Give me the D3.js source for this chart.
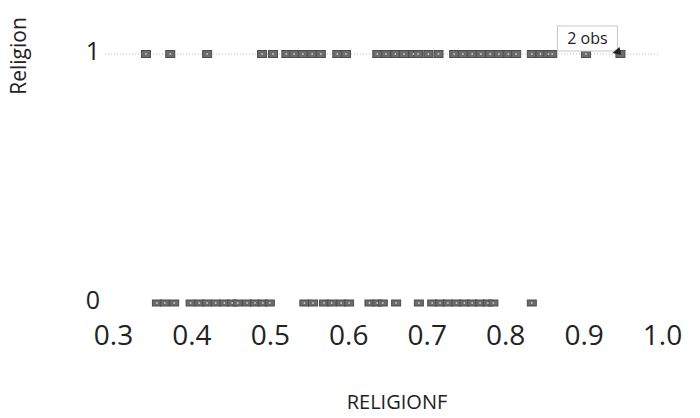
<!DOCTYPE html>
<html><head><meta charset="utf-8">
<script src="https://cdn.jsdelivr.net/npm/d3@7"></script>
<style>body{margin:0;background:#fff}svg{display:block}</style>
</head><body>
<svg id="c" width="700" height="418"></svg>
<script>
const xTicks = [0.3, 0.4, 0.5, 0.6, 0.7, 0.8, 0.9, 1.0];
const yCategories = [0, 1];
const religion1 = [0.342,0.373,0.420,0.490,0.504,0.521,0.531,0.542,0.554,0.565,0.586,0.597,
  0.637,0.648,0.660,0.671,0.683,0.689,0.702,0.715,0.735,0.746,0.758,0.769,0.781,0.792,0.804,0.814,
  0.834,0.845,0.855,0.860,0.903,0.947];
const religion0 = [0.356,0.366,0.378,0.399,0.410,0.420,0.431,0.442,0.452,0.459,0.471,0.481,0.491,0.500,
  0.544,0.555,0.569,0.579,0.591,0.601,0.627,0.637,0.644,0.661,0.690,
  0.707,0.717,0.727,0.738,0.748,0.758,0.768,0.778,0.785,0.834];
const tooltipText = "2 obs";
const tooltipValue = 0.947;

const svg = d3.select("#c");
const x = d3.scaleLinear().domain([0.3, 1.0]).range([113, 662]);
const y = d3.scaleLinear().domain([0, 1]).range([303, 54]);
const font = "'Open Sans', sans-serif";

// faint dotted guide at category 1
svg.append("line").attr("x1", 105).attr("x2", 660).attr("y1", y(1)).attr("y2", y(1))
  .attr("stroke", "#bbb").attr("stroke-width", 1).attr("stroke-dasharray", "1,2");

// x axis tick labels
const xAxis = d3.axisBottom(x).tickValues(xTicks).tickFormat(d3.format(".1f")).tickSize(0).tickPadding(0);
const gx = svg.append("g").attr("transform", "translate(0,325)").call(xAxis);
gx.select(".domain").remove();
gx.selectAll("text").attr("font-family", font).attr("font-size", 28).attr("fill", "#222")
  .attr("dy", "0.71em");

// y axis labels
const yAxis = d3.axisLeft(y).tickValues(yCategories).tickFormat(d3.format("d")).tickSize(0).tickPadding(0);
const gy = svg.append("g").attr("transform", "translate(100,-3)").call(yAxis);
gy.select(".domain").remove();
gy.selectAll("text").attr("font-family", font).attr("font-size", 25).attr("fill", "#222");

// markers
function drawRow(vals, cat, h) {
  const g = svg.append("g");
  g.selectAll("rect").data(vals).enter().append("rect")
    .attr("x", d => x(d) - 4.5).attr("y", y(cat) - h / 2)
    .attr("width", 9).attr("height", h)
    .attr("fill", "#6c6c6c").attr("stroke", "#4d4d4d").attr("stroke-width", 1);
  g.selectAll("circle").data(vals).enter().append("circle")
    .attr("cx", d => x(d)).attr("cy", y(cat)).attr("r", 0.9).attr("fill", "#c8c8c8");
}
drawRow(religion1, 1, 7);
drawRow(religion0, 0, 6);

// tooltip
const tx = x(tooltipValue), ty = y(1);
svg.append("rect").attr("x", tx - 63).attr("y", ty - 28).attr("width", 60).attr("height", 25)
  .attr("fill", "#fff").attr("stroke", "#c8c8c8").attr("stroke-width", 1);
svg.append("text").attr("x", tx - 33).attr("y", ty - 10).attr("text-anchor", "middle")
  .attr("font-family", font).attr("font-size", 16).attr("fill", "#222").text(tooltipText);
svg.append("path").attr("d", `M${tx-8},${ty-1} L${tx-1},${ty-7} L${tx+1},${ty+1} Z`).attr("fill", "#222");

// axis titles
svg.append("text").attr("transform", "translate(26,56) rotate(-90)").attr("text-anchor", "middle")
  .attr("font-family", font).attr("font-size", 21).attr("fill", "#222").text("Religion");
svg.append("text").attr("x", 397).attr("y", 409).attr("text-anchor", "middle")
  .attr("font-family", font).attr("font-size", 20).attr("fill", "#222").text("RELIGIONF");
</script>
</body></html>
